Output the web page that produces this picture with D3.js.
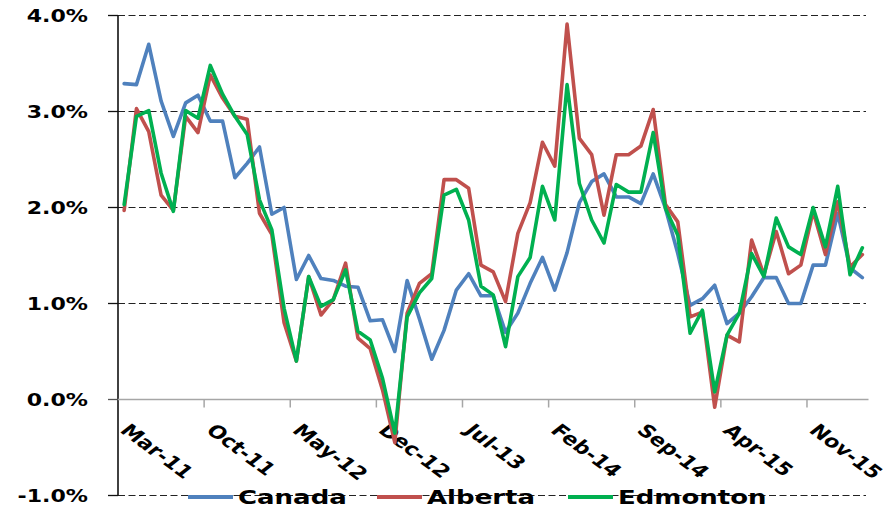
<!DOCTYPE html>
<html>
<head>
<meta charset="utf-8">
<script src="https://cdn.jsdelivr.net/npm/d3@7"></script>
<style>
  html, body { margin: 0; padding: 0; background: #fff; }
  svg { display: block; }
  text { font-family: "DejaVu Sans", Verdana, sans-serif; font-weight: bold; fill: #000; }
</style>
</head>
<body>
<svg id="chart" width="895" height="510"></svg>
<script>
// Monthly series, Mar-11 through Mar-16 (year-over-year % change)
const months = d3.range(61).map(i => d3.timeMonth.offset(new Date(2011, 2, 1), i));
const canada = [3.29,3.28,3.70,3.11,2.74,3.09,3.17,2.90,2.90,2.31,2.46,2.63,1.93,
  2.00,1.25,1.50,1.26,1.24,1.18,1.17,0.82,0.83,0.50,1.24,0.84,
  0.42,0.72,1.14,1.31,1.08,1.08,0.70,0.90,1.21,1.48,1.14,1.53,
  2.05,2.27,2.35,2.11,2.11,2.04,2.35,1.99,1.52,0.98,1.05,1.19,
  0.79,0.90,1.07,1.27,1.27,1.00,1.00,1.40,1.40,1.94,1.37,1.27];
const alberta = [1.97,3.03,2.79,2.13,1.97,2.95,2.78,3.38,3.14,2.95,2.92,1.94,1.72,
  0.80,0.40,1.28,0.88,1.04,1.42,0.64,0.53,0.10,-0.45,0.90,1.21,
  1.31,2.29,2.29,2.20,1.40,1.33,1.02,1.73,2.05,2.68,2.43,3.91,
  2.72,2.55,1.92,2.55,2.55,2.64,3.02,2.03,1.85,0.86,0.91,-0.08,
  0.67,0.60,1.66,1.30,1.75,1.31,1.40,1.96,1.51,2.06,1.38,1.51];
const edmonton = [2.03,2.95,3.01,2.36,1.96,3.01,2.93,3.48,3.18,2.95,2.76,2.08,1.77,
  0.95,0.40,1.28,0.97,1.04,1.35,0.71,0.62,0.22,-0.35,0.86,1.11,
  1.26,2.13,2.19,1.87,1.18,1.09,0.55,1.28,1.48,2.22,1.87,3.28,
  2.25,1.87,1.63,2.24,2.16,2.16,2.78,1.99,1.71,0.69,0.93,0.08,
  0.67,0.90,1.52,1.28,1.89,1.59,1.51,2.00,1.59,2.22,1.30,1.58];
const seriesNames = ["Canada", "Alberta", "Edmonton"];
const seriesColors = ["#4F81BD", "#C0504D", "#00B050"];
const yTicks = [-1, 0, 1, 2, 3, 4];
const labelEvery = 7;

const svg = d3.select("#chart");
const plotLeft = 118, plotRight = 868.5, plotTop = 15.5, plotBottom = 495.5;
const stretch = 1.3; // wide lettering

const x = d3.scaleBand().domain(d3.range(months.length)).range([plotLeft, plotRight]).padding(0);
const y = d3.scaleLinear().domain([-1, 4]).range([plotBottom, plotTop]);
// plain hyphen-minus for negative values
const fmtPct = d => d.toFixed(1) + "%";
const fmtMonth = d3.timeFormat("%b-%y");

// horizontal gridlines (dashed), except at zero where the category axis sits
svg.append("g").selectAll("line")
  .data(yTicks.filter(d => d !== 0))
  .join("line")
  .attr("x1", plotLeft).attr("x2", 866)
  .attr("y1", d => y(d)).attr("y2", d => y(d))
  .attr("stroke", "#222").attr("stroke-width", 1.2)
  .attr("stroke-dasharray", "7,3.5");

// value axis
const yAxis = svg.append("g");
yAxis.append("line")
  .attr("x1", plotLeft).attr("x2", plotLeft).attr("y1", plotTop).attr("y2", plotBottom)
  .attr("stroke", "#111").attr("stroke-width", 1.6);
yAxis.selectAll("line.tick").data(yTicks).join("line").attr("class", "tick")
  .attr("x1", plotLeft - 10).attr("x2", plotLeft)
  .attr("y1", d => y(d)).attr("y2", d => y(d))
  .attr("stroke", d => d === 0 ? "#555" : "#111").attr("stroke-width", 1.3);
yAxis.selectAll("text").data(yTicks).join("text")
  .attr("transform", d => `translate(88,${y(d)}) scale(${stretch},1)`)
  .attr("text-anchor", "end").attr("dy", "0.36em")
  .style("font-size", "17px")
  .text(fmtPct);

// category axis along the zero line
const xAxis = svg.append("g");
xAxis.append("line")
  .attr("x1", plotLeft).attr("x2", plotRight).attr("y1", y(0)).attr("y2", y(0))
  .attr("stroke", "#a6a6a6").attr("stroke-width", 1.6);
const labelIdx = d3.range(0, months.length, labelEvery);
xAxis.selectAll("line.tick").data(labelIdx.filter(i => i > 0)).join("line").attr("class", "tick")
  .attr("x1", i => x(i)).attr("x2", i => x(i))
  .attr("y1", y(0)).attr("y2", y(0) + 8)
  .attr("stroke", "#a6a6a6").attr("stroke-width", 1.5);
xAxis.selectAll("text").data(labelIdx).join("text")
  .attr("transform", i => `translate(${x(i) + 1},${y(0) + 32}) scale(${stretch},1) rotate(44)`)
  .attr("text-anchor", "start")
  .style("font-size", "17.5px")
  .text(i => fmtMonth(months[i]));

// series lines
const line = d3.line()
  .x((d, i) => x(i) + x.bandwidth() / 2)
  .y(d => y(d));
[canada, alberta, edmonton].forEach((vals, k) => {
  svg.append("path")
    .datum(vals)
    .attr("d", line)
    .attr("fill", "none")
    .attr("stroke", seriesColors[k])
    .attr("stroke-width", 3.6)
    .attr("stroke-linejoin", "round")
    .attr("stroke-linecap", "round");
});

// legend along the bottom
const legendX = [188, 377, 568];
const legend = svg.append("g");
seriesNames.forEach((name, k) => {
  legend.append("line")
    .attr("x1", legendX[k]).attr("x2", legendX[k] + 45)
    .attr("y1", 497).attr("y2", 497)
    .attr("stroke", seriesColors[k]).attr("stroke-width", 4);
  legend.append("text")
    .attr("transform", `translate(${legendX[k] + 50},497) scale(${stretch},1)`)
    .attr("dy", "0.36em")
    .style("font-size", "20px")
    .text(name);
});
</script>
</body>
</html>
